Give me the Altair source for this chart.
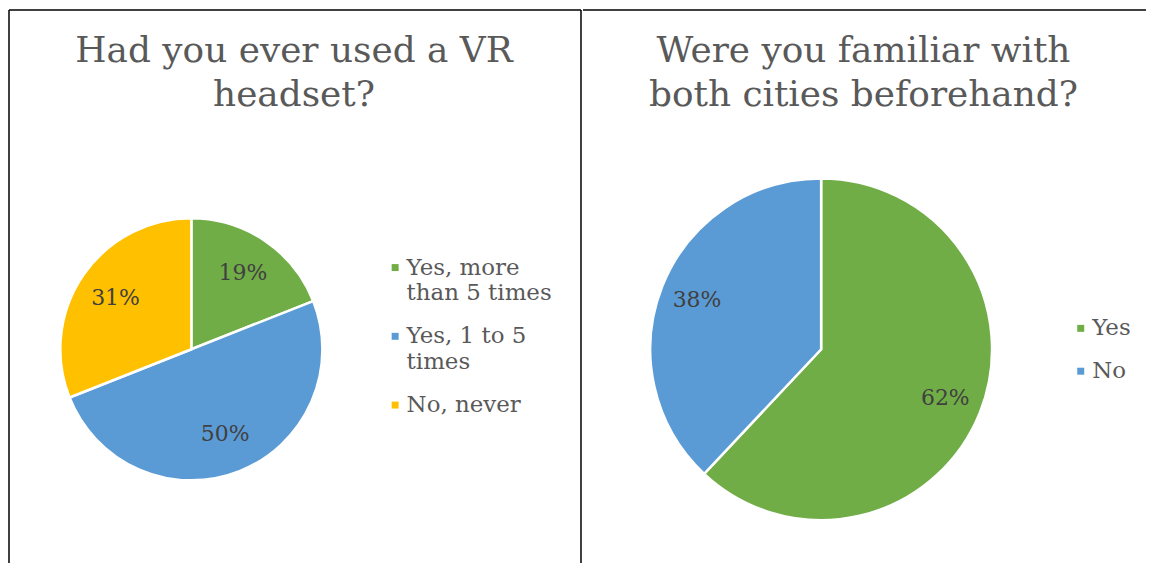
import json
import altair as alt
import pandas as pd

# ---- data ----
vr_categories = ["Yes, more than 5 times", "Yes, 1 to 5 times", "No, never"]
vr_values = [19, 50, 31]
vr_legend_lines = [["Yes, more", "than 5 times"], ["Yes, 1 to 5", "times"], ["No, never"]]
vr_colors = ["#70AD47", "#5B9BD5", "#FFC000"]
vr_title = ["Had you ever used a VR", "headset?"]

city_categories = ["Yes", "No"]
city_values = [62, 38]
city_colors = ["#70AD47", "#5B9BD5"]
city_title = ["Were you familiar with", "both cities beforehand?"]

FONT = "DejaVu Serif"
W1, W2, H = 574, 565, 555


def label_expr(categories, lines):
    expr = "datum.label"
    for cat, ln in reversed(list(zip(categories, lines))):
        expr = f"datum.label == {json.dumps(cat)} ? {json.dumps(ln)} : ({expr})"
    return expr


def panel(categories, values, colors, title_lines, legend_lines, width,
          cx, cy, r, label_r, legend_x, legend_y, left_border):
    df = pd.DataFrame({
        "category": categories,
        "value": values,
        "order": list(range(len(categories))),
    })
    df["label"] = df["value"].astype(str) + "%"

    base = alt.Chart(df).encode(
        theta=alt.Theta("value:Q", stack=True),
        order=alt.Order("order:Q"),
    )
    arcs = base.mark_arc(stroke="white", strokeWidth=2.5).encode(
        color=alt.Color(
            "category:N",
            scale=alt.Scale(domain=categories, range=colors),
            sort=categories,
            legend=alt.Legend(
                orient="none", legendX=legend_x, legendY=legend_y, title=None,
                labelFont=FONT, labelFontSize=23, labelColor="#595959",
                symbolType="square", symbolSize=49, symbolStrokeWidth=0,
                labelExpr=label_expr(categories, legend_lines),
                labelOffset=0, rowPadding=19, labelLimit=300,
            ),
        ),
        x=alt.value(cx), y=alt.value(cy), radius=alt.value(r),
    )
    labels = base.mark_text(font=FONT, fontSize=22, color="#404040").encode(
        text="label:N",
        x=alt.value(cx), y=alt.value(cy), radius=alt.value(label_r),
    )

    tdf = pd.DataFrame({"title": ["\n".join(title_lines)]})
    title = alt.Chart(tdf).mark_text(
        font=FONT, fontSize=36, color="#595959", lineBreak="\n",
        lineHeight=44, align="center", baseline="alphabetic",
    ).encode(text="title:N", x=alt.value(width / 2 - 1), y=alt.value(52))

    layers = [arcs, labels, title]
    rule_base = alt.Chart(tdf).mark_rule(color="black", strokeWidth=1.5)
    layers.append(rule_base.encode(x=alt.value(0), x2=alt.value(width), y=alt.value(0)))
    if left_border:
        layers.append(rule_base.encode(x=alt.value(0), y=alt.value(0), y2=alt.value(H)))
        layers.append(rule_base.encode(x=alt.value(width), y=alt.value(0), y2=alt.value(H)))

    return alt.layer(*layers).properties(width=width, height=H)


left = panel(vr_categories, vr_values, vr_colors, vr_title, vr_legend_lines, W1,
             cx=183, cy=340.5, r=131.5, label_r=92, legend_x=376, legend_y=247,
             left_border=True)
right = panel(city_categories, city_values, city_colors, city_title,
              [[c] for c in city_categories], W2,
              cx=239, cy=340.5, r=171.5, label_r=134, legend_x=488, legend_y=308,
              left_border=False)

chart = alt.hconcat(left, right, spacing=0).resolve_scale(
    color="independent", theta="independent"
).properties(padding=0).configure(
    style={"guide-label": {"lineHeight": 26}}
).configure_view(stroke=None)

chart.save("out.html", embed_options={"renderer": "svg", "actions": False})
